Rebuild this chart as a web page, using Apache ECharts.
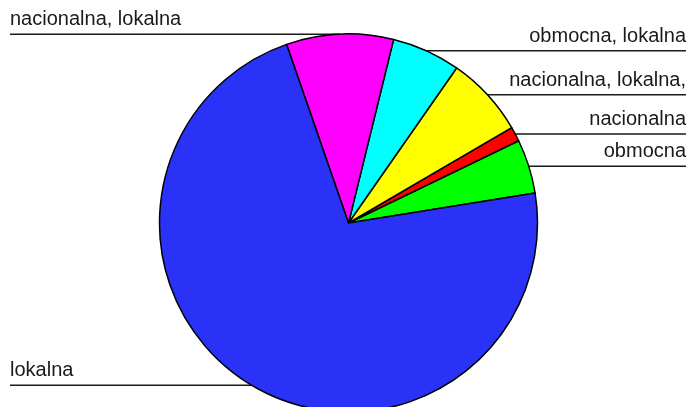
<!DOCTYPE html>
<html>
<head>
<meta charset="utf-8">
<script src="https://cdn.jsdelivr.net/npm/echarts@6/dist/echarts.min.js"></script>
<style>
html,body{margin:0;padding:0;background:#fff;}
#c{width:689px;height:407px;}
</style>
</head>
<body>
<div id="c"></div>
<script>
var categories = ['obmocna', 'nacionalna', 'nacionalna, lokalna,', 'obmocna, lokalna', 'nacionalna, lokalna', 'lokalna'];
var values = [4.64, 1.25, 6.89, 5.86, 9.14, 72.22];
var colors = ['#00ff00', '#ff0000', '#ffff00', '#00ffff', '#ff00ff', '#2a32f8'];
var edgeDist = [3, 3, 3, 3, 10, 10];

var chart = echarts.init(document.getElementById('c'), null, {renderer: 'canvas'});
var data = categories.map(function (n, i) {
  return {
    name: n,
    value: values[i],
    itemStyle: {color: colors[i]},
    label: {edgeDistance: edgeDist[i]}
  };
});
chart.setOption({
  animation: false,
  backgroundColor: '#ffffff',
  series: [{
    type: 'pie',
    left: 0, top: 0, width: 689, height: 407,
    center: [348.5, 223],
    radius: [0, 189],
    startAngle: 9.1,
    clockwise: false,
    avoidLabelOverlap: false,
    itemStyle: {borderColor: '#000', borderWidth: 1.5},
    emphasis: {disabled: true},
    label: {
      show: true,
      position: 'outer',
      alignTo: 'edge',
      fontFamily: 'Liberation Sans, Arial, sans-serif',
      fontSize: 20,
      lineHeight: 29,
      color: '#1a1a1a',
      formatter: '{b}\n '
    },
    labelLine: {
      show: true,
      length: 0,
      length2: 20,
      smooth: false,
      lineStyle: {color: '#1a1a1a', width: 1.5}
    },
    labelLayout: function (p) {
      var pts = p.labelLinePoints;
      if (!pts) return;
      var isLeft = p.labelRect.x < chart.getWidth() / 2;
      pts[2][0] = isLeft ? p.labelRect.x : p.labelRect.x + p.labelRect.width;
      return {labelLinePoints: pts};
    },
    data: data
  }]
});
</script>
</body>
</html>
